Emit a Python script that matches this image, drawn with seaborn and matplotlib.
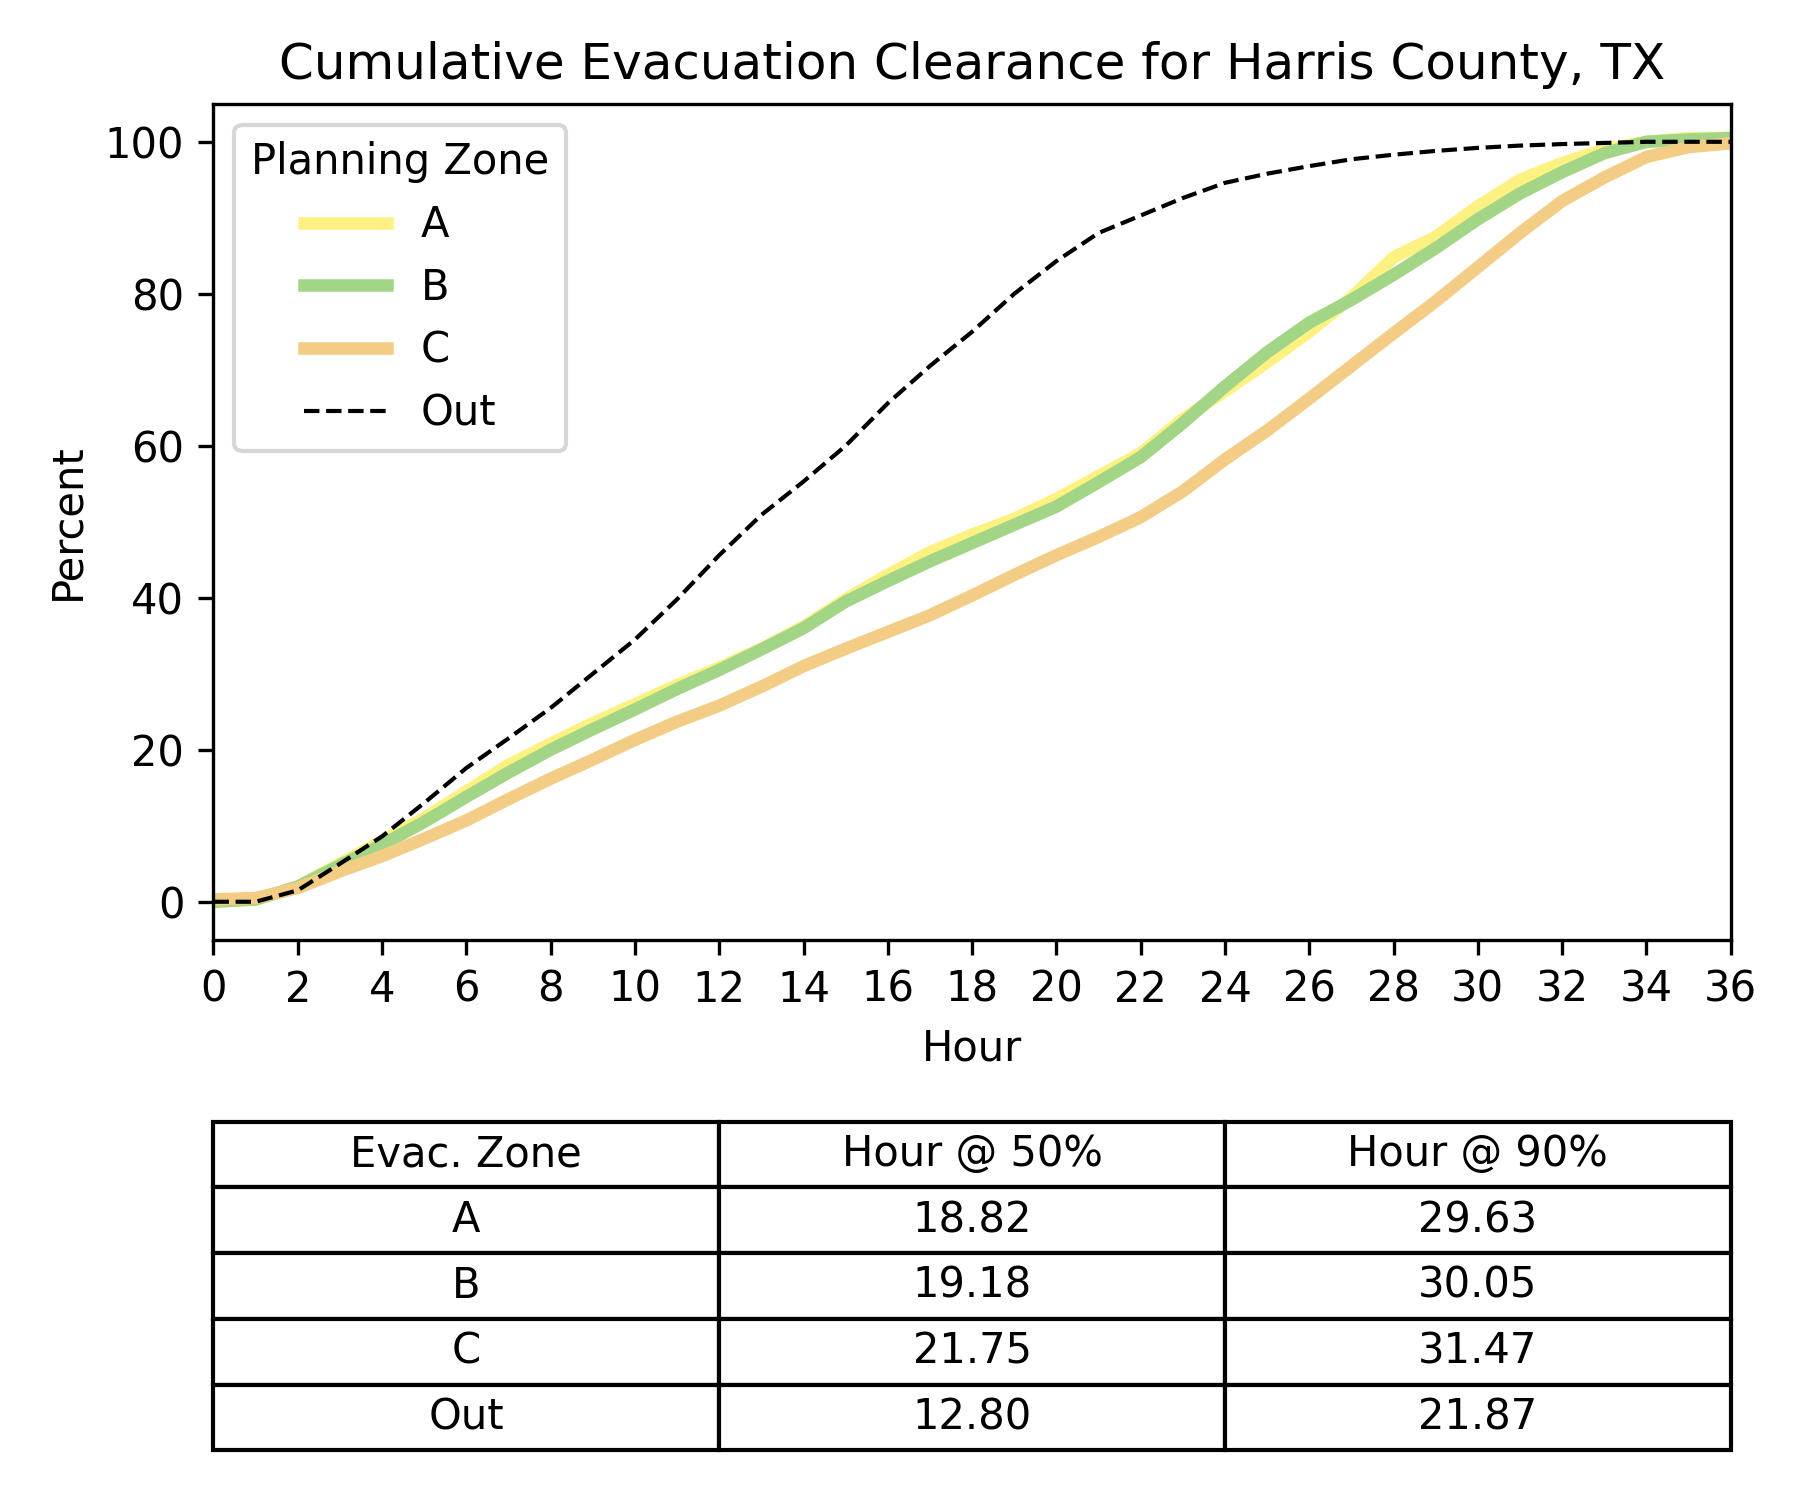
import matplotlib
matplotlib.use("Agg")
import matplotlib.pyplot as plt
import seaborn as sns
import pandas as pd
import numpy as np

hours = list(range(0, 37))
zone_a = [0, 0.3, 2, 5, 8, 11, 14.5, 18, 20.8, 23.5, 26, 28.5, 30.8, 33.3, 36.2, 39.8, 43, 46,
          48.3, 50.4, 53, 56, 59, 63.5, 67.2, 71, 75, 79.5, 84.8, 87.5, 91.5, 95, 97.2, 99, 100, 100.5, 100.5]
zone_b = [0, 0.3, 2, 4.8, 7.5, 10.5, 13.8, 17, 20, 22.7, 25.3, 28, 30.5, 33.2, 36, 39.5, 42.2, 44.8,
          47.2, 49.6, 52, 55.2, 58.5, 63, 67.8, 72.3, 76.2, 79.2, 82.5, 86, 89.8, 93.2, 96, 98.5, 100, 100.3, 100.5]
zone_c = [0.3, 0.5, 1.8, 4, 6, 8.3, 10.7, 13.5, 16.2, 18.7, 21.3, 23.7, 25.8, 28.3, 31, 33.3, 35.5, 37.7,
          40.3, 43, 45.6, 48, 50.6, 54, 58.2, 62, 66.2, 70.5, 74.8, 79, 83.5, 88, 92.2, 95.3, 98, 99.3, 99.8]
out = [0, 0, 1.5, 5, 8.6, 13, 17.6, 21.5, 25.5, 30, 34.5, 39.8, 45.6, 50.9, 55.3, 60, 65.6, 70.5,
       75, 80, 84.3, 88, 90.3, 92.6, 94.6, 95.8, 96.8, 97.7, 98.3, 98.8, 99.2, 99.5, 99.7, 99.85, 100, 100, 100]

zones = ["A", "B", "C"]
zone_colors = ["#FDF181", "#A2D586", "#F3CD85"]

table_header = ["Evac. Zone", "Hour @ 50%", "Hour @ 90%"]
table_zones = ["A", "B", "C", "Out"]
hour50 = ["18.82", "19.18", "21.75", "12.80"]
hour90 = ["29.63", "30.05", "31.47", "21.87"]

df = pd.DataFrame({
    "Hour": hours * 3,
    "Percent": zone_a + zone_b + zone_c,
    "Planning Zone": ["A"] * len(hours) + ["B"] * len(hours) + ["C"] * len(hours),
})
df_out = pd.DataFrame({"Hour": hours, "Percent": out})

fig = plt.figure(figsize=(6, 5), dpi=300)
left, right = 0.1186, 0.9615
ax = fig.add_axes([left, 0.3735, right - left, 0.9308 - 0.3735])

sns.lineplot(data=df, x="Hour", y="Percent", hue="Planning Zone", hue_order=zones,
             palette=zone_colors, linewidth=3, ax=ax)
sns.lineplot(data=df_out, x="Hour", y="Percent", color="black", linestyle="--",
             linewidth=1, label="Out", ax=ax)

ax.set_xlim(0, 36)
ax.set_ylim(-5, 105)
ax.set_xticks(range(0, 37, 2))
ax.set_yticks(range(0, 101, 20))
ax.set_title("Cumulative Evacuation Clearance for Harris County, TX", fontsize=12)
ax.set_xlabel("Hour")
ax.set_ylabel("Percent")
ax.legend(title="Planning Zone", loc="upper left")

tax = fig.add_axes([left, 0.0331, right - left, 0.2523 - 0.0331])
tax.axis("off")
cells = [[z, a, b] for z, a, b in zip(table_zones, hour50, hour90)]
tbl = tax.table(cellText=cells, colLabels=table_header, cellLoc="center",
                loc="center", bbox=[0, 0, 1, 1])
tbl.auto_set_font_size(False)
tbl.set_fontsize(10)

fig.savefig("out.png", dpi=300)
